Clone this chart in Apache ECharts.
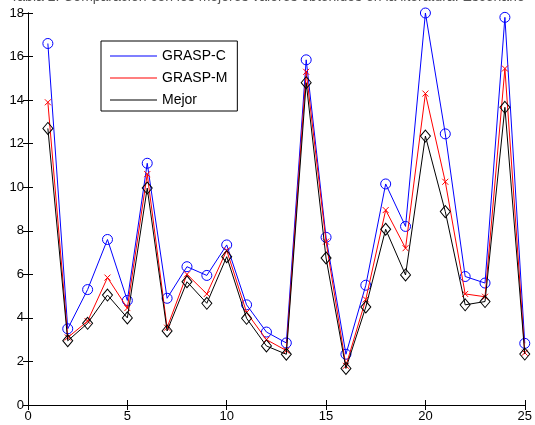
<!DOCTYPE html>
<html><head><meta charset="utf-8">
<script src="https://cdn.jsdelivr.net/npm/echarts@6/dist/echarts.min.js"></script>
<style>html,body{margin:0;padding:0;background:#fff}#c{width:535px;height:425px}</style>
</head><body><div id="c"></div>
<script>
const xValues = [1,2,3,4,5,6,7,8,9,10,11,12,13,14,15,16,17,18,19,20,21,22,23,24,25];
const graspC = [16.6,3.5,5.3,7.6,4.8,11.1,4.9,6.35,5.95,7.35,4.6,3.35,2.85,15.85,7.7,2.33,5.5,10.15,8.2,18.0,12.45,5.9,5.6,17.8,2.83];
const graspM = [13.9,3.1,3.85,5.85,4.45,10.6,3.55,6.0,5.1,7.1,4.25,3.0,2.5,15.3,7.5,1.8,4.85,8.95,7.2,14.3,10.25,5.1,4.97,15.45,2.4];
const mejor  = [12.7,2.95,3.75,5.05,4.0,9.96,3.4,5.66,4.67,6.81,3.98,2.71,2.33,14.8,6.75,1.68,4.5,8.07,5.97,12.35,8.88,4.6,4.75,13.67,2.34];
const xTicks = [0,5,10,15,20,25];
const yTicks = [0,2,4,6,8,10,12,14,16,18];
const names = ['GRASP-C','GRASP-M','Mejor'];
const colors = ['#0000ff','#ff0000','#000000'];
const titleText = 'Tabla 2: Comparación con los mejores valores obtenidos en la literatura. Escenario';

const pairs = a => xValues.map((x,i)=>[x,a[i]]);
const font = 'Liberation Sans, Arial, sans-serif';
const chart = echarts.init(document.getElementById('c'), null, {renderer:'canvas'});
const axisCommon = {
  axisLine:{show:true,lineStyle:{color:'#000',width:1}},
  axisTick:{show:true,inside:true,length:5,lineStyle:{color:'#000'}},
  splitLine:{show:false}
};
chart.setOption({
  animation:false,
  backgroundColor:'#fff',
  title:{text:titleText,left:'center',top:-10,padding:0,textStyle:{fontFamily:font,fontSize:14,fontWeight:'normal',color:'#555'}},
  grid:{left:28,right:8,top:13,bottom:20},
  legend:{
    data:names.map((n,i)=>({name:n,itemStyle:{color:colors[i],borderWidth:0}})),
    orient:'vertical', left:101, top:41,
    backgroundColor:'#fff', borderColor:'#000', borderWidth:1,
    padding:[7,10,3,9], itemGap:6, itemWidth:47, itemHeight:1, icon:'rect',
    textStyle:{fontFamily:font,fontSize:14,color:'#000',lineHeight:16}
  },
  xAxis:[
    Object.assign({type:'value',min:0,max:25,interval:5,position:'bottom',
      axisLabel:{fontFamily:font,fontSize:13,color:'#000',margin:5,formatter:v=>xTicks.includes(v)?String(v):''}},axisCommon),
    Object.assign({type:'value',min:0,max:25,interval:5,position:'top',axisLabel:{show:false}},axisCommon)
  ],
  yAxis:[
    Object.assign({type:'value',min:0,max:18,interval:2,position:'left',
      axisLabel:{fontFamily:font,fontSize:13,color:'#000',margin:4,formatter:v=>yTicks.includes(v)?String(v):''}},axisCommon),
    Object.assign({type:'value',min:0,max:18,interval:2,position:'right',axisLabel:{show:false}},axisCommon)
  ],
  series:[
    {name:names[0],type:'line',data:pairs(graspC),symbol:'circle',symbolSize:10,
      lineStyle:{color:colors[0],width:1},itemStyle:{color:'rgba(0,0,0,0)',borderColor:colors[0],borderWidth:1},
      z:2,emphasis:{disabled:true}},
    {name:names[1],type:'line',data:pairs(graspM),symbol:'path://M0,0L10,10M10,0L0,10',symbolSize:6,
      lineStyle:{color:colors[1],width:1},itemStyle:{color:'rgba(0,0,0,0)',borderColor:colors[1],borderWidth:1},
      z:3,emphasis:{disabled:true}},
    {name:names[2],type:'line',data:pairs(mejor),symbol:'diamond',symbolSize:[10,12],
      lineStyle:{color:colors[2],width:1},itemStyle:{color:'rgba(0,0,0,0)',borderColor:colors[2],borderWidth:1},
      z:4,emphasis:{disabled:true}}
  ]
});
</script></body></html>
